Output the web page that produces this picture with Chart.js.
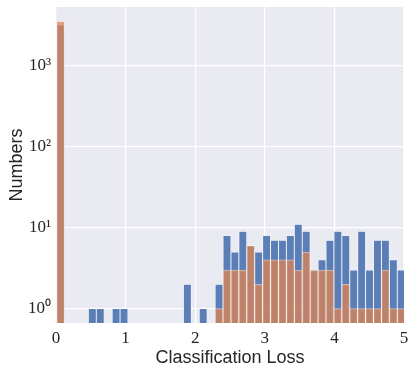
<!DOCTYPE html>
<html><head><meta charset="utf-8">
<script src="https://cdn.jsdelivr.net/npm/chart.js@4"></script>
<style>html,body{margin:0;padding:0;background:#fff}</style>
</head><body>
<canvas id="c" width="415" height="374"></canvas>
<script>
// Histogram bins (classification loss)
const binStart = 0.01;
const binWidth = 0.1138;
const blueCounts = [3200,null,null,null,1,1,null,1,1,null,null,null,null,null,null,null,2,null,1,null,2,8,5,9,6,5,8,7,7,8,11,9,3,4,7,9,8,3,9,3,7,7,4,3];
const orangeCounts = [3525,null,null,null,null,null,null,null,null,null,null,null,null,null,null,null,null,null,null,null,1,3,3,3,6,2,4,4,4,4,3,5,3,3,3,1,2,1,1,1,1,3,1,1];
const xTicks = [0,1,2,3,4,5];
const yTicks = [1,10,100,1000];
const yTickLabels = ['10\u2070','10\u00B9','10\u00B2','10\u00B3'];

const binCenters = blueCounts.map((_, i) => binStart + (i + 0.5) * binWidth);
const toPts = arr => arr.map((v, i) => ({x: binCenters[i], y: v}));

const bgPlugin = {
  id: 'bg',
  beforeDraw(chart) {
    const {ctx, chartArea: a} = chart;
    ctx.save();
    ctx.fillStyle = '#EAEAF2';
    ctx.fillRect(a.left, a.top, a.right - a.left, a.bottom - a.top);
    ctx.restore();
  }
};

new Chart(document.getElementById('c'), {
  type: 'bar',
  data: {
    datasets: [
      {label: 'blue', order: 2, data: toPts(blueCounts), backgroundColor: 'rgba(76,114,176,0.9)', borderColor: 'rgba(255,255,255,0.55)', borderWidth: 0.8, clip: 0},
      {label: 'orange', order: 1, data: toPts(orangeCounts), backgroundColor: 'rgba(221,132,82,0.75)', borderColor: 'rgba(255,255,255,0.55)', borderWidth: 0.8, clip: 0}
    ]
  },
  options: {
    responsive: false,
    animation: false,
    devicePixelRatio: 1,
    layout: {padding: {top: 7, right: 11, left: 0, bottom: 0}},
    datasets: {bar: {grouped: false, barPercentage: 1, categoryPercentage: 1}},
    plugins: {legend: {display: false}, tooltip: {enabled: false}},
    scales: {
      x: {
        type: 'linear', min: 0, max: 5, offset: false,
        afterBuildTicks: s => { s.ticks = xTicks.map(v => ({value: v})); },
        afterFit: s => { s.height = 51; s.paddingLeft = 0; s.paddingRight = 0; },
        grid: {color: '#ffffff', lineWidth: 1.2, drawTicks: false, offset: false},
        border: {display: false},
        ticks: {color: '#262626', font: {family: 'Liberation Serif', size: 17}, padding: 5, maxRotation: 0},
        title: {display: true, text: 'Classification Loss', color: '#262626', font: {family: 'Liberation Sans', size: 18}, padding: {top: 0, bottom: 5}}
      },
      y: {
        type: 'logarithmic', min: 0.665, max: 5300,
        afterBuildTicks: s => { s.ticks = yTicks.map(v => ({value: v, major: true})); },
        afterFit: s => { s.width = 56; s.paddingTop = 0; s.paddingBottom = 0; },
        grid: {color: '#ffffff', lineWidth: 1.2, drawTicks: false},
        border: {display: false},
        ticks: {color: '#262626', font: {family: 'Liberation Serif', size: 17}, padding: 5,
          callback: v => { const i = yTicks.indexOf(v); return i >= 0 ? yTickLabels[i] : ''; }},
        title: {display: true, text: 'Numbers', color: '#262626', font: {family: 'Liberation Sans', size: 18}, padding: {top: 6, bottom: 0}}
      }
    }
  },
  plugins: [bgPlugin]
});
</script>
</body></html>
